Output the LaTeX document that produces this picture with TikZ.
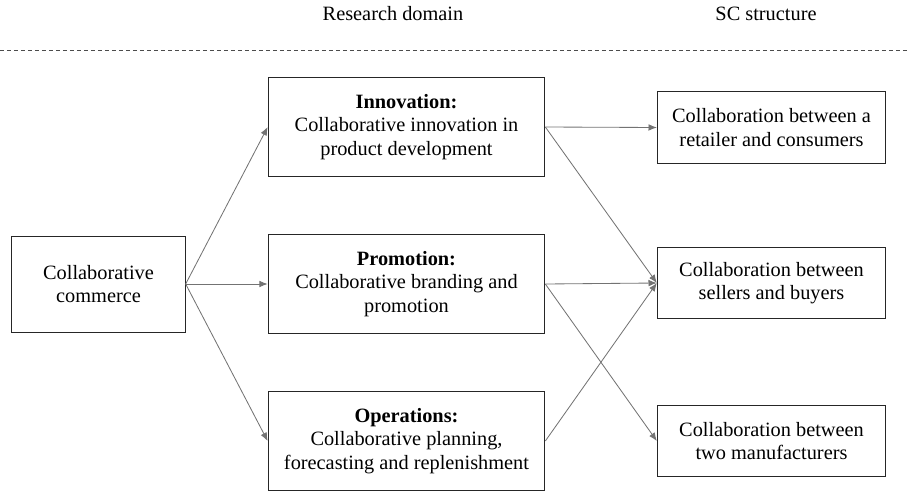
\documentclass[tikz,border=0pt]{standalone}
\usepackage{fontspec}
\setmainfont{Liberation Serif}
\usetikzlibrary{arrows.meta}
\begin{document}
\begin{tikzpicture}[
  x=0.6pt, y=-0.6pt,
  every node/.style = {font=\fontsize{12.2}{13.9}\selectfont, align=center},
  box/.style = {draw=black!85, line width=0.6pt, inner sep=2pt},
  srcbox/.style = {box, minimum width=104pt, minimum height=57.6pt},
  domainbox/.style = {box, minimum width=166pt, minimum height=59pt},
  scbox/.style = {box, minimum width=137pt, minimum height=43pt},
  link/.style = {draw=black!55, line width=0.5pt,
    -{Latex[length=5pt,width=4pt]}}
  ]
  \useasboundingbox (0,0) rectangle (908,492);
  % column headings
  \node (hdomain) at (393,14) {Research domain};
  \node (hsc) at (766,14) {SC structure};
  \draw[black!70, line width=0.5pt, dash pattern=on 2.4pt off 1.8pt]
    (0,50) -- (908,50);
  % left column
  \node[srcbox] (cc) at (98.5,284) {Collaborative\\commerce};
  % middle column
  \node[domainbox] (inno) at (406.5,127)
    {\textbf{Innovation:}\\Collaborative innovation in\\product development};
  \node[domainbox] (promo) at (406.5,284)
    {\textbf{Promotion:}\\Collaborative branding and\\promotion};
  \node[domainbox] (oper) at (406.5,441)
    {\textbf{Operations:}\\Collaborative planning,\\forecasting and replenishment};
  % right column
  \node[scbox] (retail) at (771.5,127.5)
    {Collaboration between a\\retailer and consumers};
  \node[scbox] (sellers) at (771.5,283)
    {Collaboration between\\sellers and buyers};
  \node[scbox] (manuf) at (771.5,441)
    {Collaboration between\\two manufacturers};
  % connectors
  \draw[link] (cc.east) -- (inno.west);
  \draw[link] (cc.east) -- (promo.west);
  \draw[link] (cc.east) -- (oper.west);
  \draw[link] (inno.east) -- (retail.west);
  \draw[link] (inno.east) -- (sellers.west);
  \draw[link] (promo.east) -- (sellers.west);
  \draw[link] (promo.east) -- (manuf.west);
  \draw[link] (oper.east) -- (sellers.west);
\end{tikzpicture}
\end{document}
